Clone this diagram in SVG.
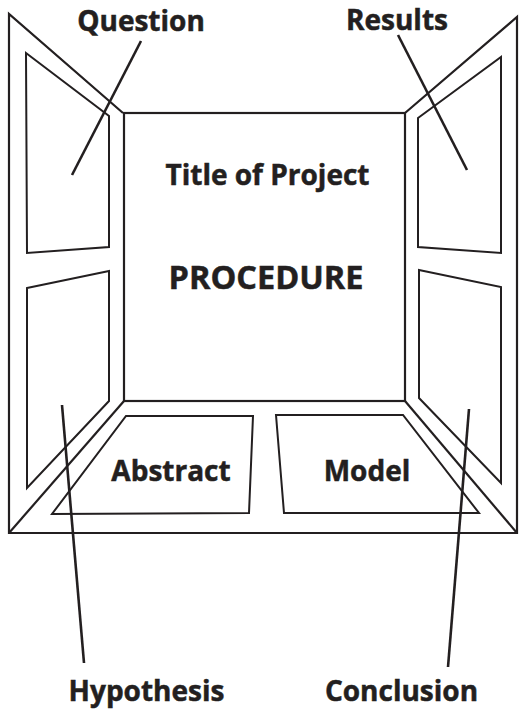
<svg xmlns="http://www.w3.org/2000/svg" width="519" height="709" viewBox="0 0 519 709">
<style>
.bg{fill:#ffffff}
.frame{fill:none;stroke:#231f20;stroke-width:2.2;stroke-linejoin:miter}
.panel{fill:none;stroke:#231f20;stroke-width:2;stroke-linejoin:miter}
.conn{stroke:#231f20;stroke-width:2.6;stroke-linecap:butt}
.lbl{font-family:"Open Sans","Liberation Sans",sans-serif;font-weight:700;fill:#231f20;stroke:#231f20;stroke-width:0.5;text-anchor:middle;font-size:28px}
</style>
<rect class="bg" x="0" y="0" width="519" height="709"/>
<g id="board">
  <polyline class="frame" points="123,113 9,14 9,533 517,533 517,17 405,113"/>
  <rect class="frame" x="124" y="113" width="281" height="288"/>
  <line class="frame" x1="9" y1="533" x2="124" y2="401"/>
  <line class="frame" x1="405" y1="401" x2="517" y2="533"/>
</g>
<g id="question">
  <polygon class="panel" points="26,53 109,116 109,247 27,253"/>
  <text class="lbl" x="141" y="31">Question</text>
</g>
<g id="hypothesis">
  <polygon class="panel" points="27,288 109,271 109,401 27,488"/>
  <text class="lbl" x="146.5" y="701">Hypothesis</text>
</g>
<g id="results">
  <polygon class="panel" points="418,118 501,57 501,253 418,247"/>
  <text class="lbl" x="397" y="30">Results</text>
</g>
<g id="conclusion">
  <polygon class="panel" points="419,270 501,287 501,483 419,398"/>
  <text class="lbl" x="401.5" y="701">Conclusion</text>
</g>
<g id="procedure">
  <text class="lbl" x="267.5" y="185">Title of Project</text>
  <text class="lbl" x="266" y="289" style="font-size:32.5px">PROCEDURE</text>
</g>
<g id="abstract">
  <polygon class="panel" points="126,416 253,416 249,513 52,514"/>
  <text class="lbl" x="171" y="481">Abstract</text>
</g>
<g id="model">
  <polygon class="panel" points="276,415 403,415 479,513 284,513"/>
  <text class="lbl" x="367" y="481">Model</text>
</g>
<g id="connectors">
  <line class="conn" x1="141" y1="41" x2="72" y2="175"/>
  <line class="conn" x1="398" y1="35" x2="467" y2="170"/>
  <line class="conn" x1="62" y1="405" x2="84" y2="663"/>
  <line class="conn" x1="469" y1="409" x2="448" y2="667"/>
</g>
</svg>
